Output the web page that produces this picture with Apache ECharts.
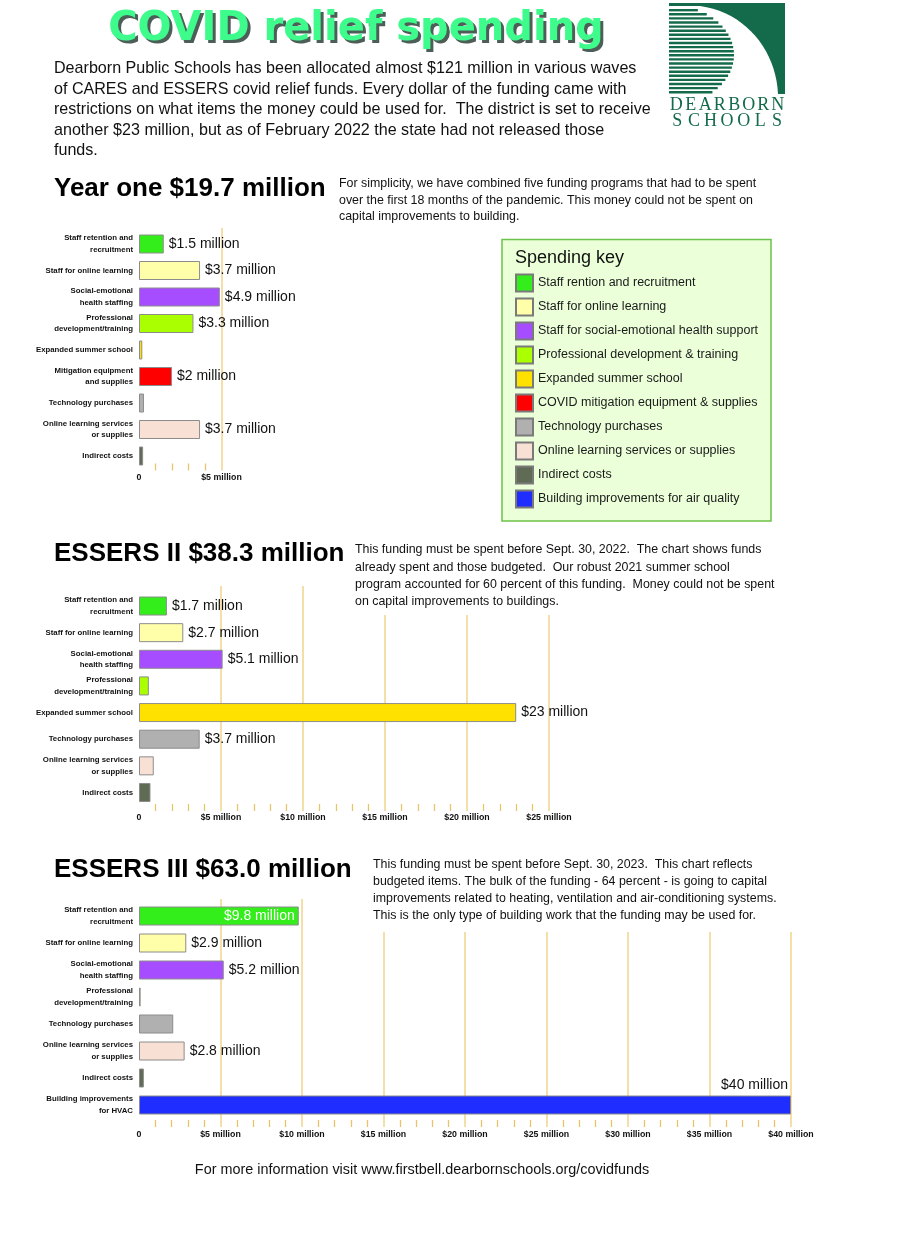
<!DOCTYPE html>
<html><head><meta charset="utf-8">
<script src="https://cdn.jsdelivr.net/npm/echarts@6/dist/echarts.min.js"></script>
<style>html,body{margin:0;padding:0;background:#fff}#c{width:898px;height:1236px}</style>
</head><body><div id="c"></div>
<script>
// ---------- DATA ----------
const keyNames = ['Staff rention and recruitment','Staff for online learning','Staff for social-emotional health support','Professional development & training','Expanded summer school','COVID mitigation equipment & supplies','Technology purchases','Online learning services or supplies','Indirect costs','Building improvements for air quality'];

const y1Categories = ['Staff retention and\nrecruitment','Staff for online learning','Social-emotional\nhealth staffing','Professional\ndevelopment/training','Expanded summer school','Mitigation equipment\nand supplies','Technology purchases','Online learning services\nor supplies','Indirect costs'];
const y1Values = [1.5, 3.7, 4.9, 3.3, 0.2, 2, 0.3, 3.7, 0.25];
const y1Keys = [0,1,2,3,4,5,6,7,8];
const y1Labeled = [0,1,2,3,5,7];

const y2Categories = ['Staff retention and\nrecruitment','Staff for online learning','Social-emotional\nhealth staffing','Professional\ndevelopment/training','Expanded summer school','Technology purchases','Online learning services\nor supplies','Indirect costs'];
const y2Values = [1.7, 2.7, 5.1, 0.6, 23, 3.7, 0.9, 0.7];
const y2Keys = [0,1,2,3,4,6,7,8];
const y2Labeled = [0,1,2,4,5];

const y3Categories = ['Staff retention and\nrecruitment','Staff for online learning','Social-emotional\nhealth staffing','Professional\ndevelopment/training','Technology purchases','Online learning services\nor supplies','Indirect costs','Building improvements\nfor HVAC'];
const y3Values = [9.8, 2.9, 5.2, 0.1, 2.1, 2.8, 0.3, 40];
const y3Keys = [0,1,2,3,6,7,8,9];
const y3Labeled = [0,1,2,5,7];
const y3LabelInside = [0];
const y3LabelAbove = [7];

const axisMaxes = [5, 25, 40];
const tickStep = 5;

const headings = ['Year one $19.7 million','ESSERS II $38.3 million','ESSERS III $63.0 million'];
const notes = [
 'For simplicity, we have combined five funding programs that had to be spent\nover the first 18 months of the pandemic. This money could not be spent on\ncapital improvements to building.',
 'This funding must be spent before Sept. 30, 2022.  The chart shows funds\nalready spent and those budgeted.  Our robust 2021 summer school\nprogram accounted for 60 percent of this funding.  Money could not be spent\non capital improvements to buildings.',
 'This funding must be spent before Sept. 30, 2023.  This chart reflects\nbudgeted items. The bulk of the funding - 64 percent - is going to capital\nimprovements related to heating, ventilation and air-conditioning systems.\nThis is the only type of building work that the funding may be used for.'
];
const intro = 'Dearborn Public Schools has been allocated almost $121 million in various waves\nof CARES and ESSERS covid relief funds. Every dollar of the funding came with\nrestrictions on what items the money could be used for.  The district is set to receive\nanother $23 million, but as of February 2022 the state had not released those\nfunds.';
const footer = 'For more information visit www.firstbell.dearbornschools.org/covidfunds';

// ---------- STYLE ----------
const keyColors = ['#33ee1a','#ffffaa','#a64dff','#aaff00','#ffe100','#ff0000','#b0b0b0','#f8e1d4','#5f6b55','#1f2eff'];
const sans = "'Liberation Sans',Arial,sans-serif";
const gridColor = '#f2d58c';

const layouts = [
  {barTop:230.75, barH:238.5, lineTop:228, lineH:242.5, width:82.5, margin:3},
  {barTop:592.7, barH:213.1, lineTop:586, lineH:225, width:410, margin:2},
  {barTop:902.5, barH:216, lineTop:899, lineH:228, width:652, margin:3}
];
const charts = [
  {cats:y1Categories, vals:y1Values, keys:y1Keys, labeled:y1Labeled, inside:[], above:[]},
  {cats:y2Categories, vals:y2Values, keys:y2Keys, labeled:y2Labeled, inside:[], above:[]},
  {cats:y3Categories, vals:y3Values, keys:y3Keys, labeled:y3Labeled, inside:y3LabelInside, above:y3LabelAbove}
];

const grid = [], xAxis = [], yAxis = [], series = [];
charts.forEach((c, i) => {
  const L = layouts[i];
  grid.push({left:139, top:L.barTop, width:L.width, height:L.barH});
  grid.push({left:139, top:L.lineTop, width:L.width, height:L.lineH});
  const bg = 2*i, lg = 2*i+1;
  xAxis.push({type:'value', gridIndex:bg, min:0, max:axisMaxes[i], show:false});
  yAxis.push({type:'category', gridIndex:bg, inverse:true, data:c.cats,
    axisLine:{show:false}, axisTick:{show:false},
    axisLabel:{interval:0, fontFamily:sans, fontWeight:'bold', fontSize:7.8, lineHeight:11.5, color:'#111', margin:6, align:'right'}});
  xAxis.push({type:'value', gridIndex:lg, min:0, max:axisMaxes[i], interval:tickStep,
    splitLine:{show:true, showMinLine:false, lineStyle:{color:gridColor, width:1.5}},
    axisLine:{show:false}, axisTick:{show:false, inside:true},
    minorTick:{show:true, splitNumber:5, length:7, lineStyle:{color:'#e8c46c', width:1.3}},
    axisLabel:{margin:L.margin, fontFamily:sans, fontWeight:'bold', fontSize:8.8, color:'#111',
      showMinLabel:true, showMaxLabel:true,
      formatter: v => v === 0 ? '0' : '$' + v + ' million'}});
  yAxis.push({type:'value', gridIndex:lg, min:0, max:1, show:false});
  series.push({
    type:'bar', xAxisIndex:bg, yAxisIndex:bg, barWidth:19, silent:true, animation:false,
    itemStyle:{borderColor:'#8c8c8c', borderWidth:1},
    label:{position:'right', distance:5, fontFamily:sans, fontSize:14, color:'#111',
      formatter: p => '$' + p.value + ' million'},
    data: c.vals.map((v, j) => {
      const d = {value:v, itemStyle:{color:keyColors[c.keys[j]]}, label:{show:c.labeled.includes(j)}};
      if (c.inside.includes(j)) Object.assign(d.label, {position:'insideRight', distance:4, color:'#fff'});
      if (c.above.includes(j)) Object.assign(d.label, {position:['100%', 0], align:'right', verticalAlign:'bottom', offset:[-3,-3]});
      return d;
    })
  });
});
keyNames.forEach((n, k) => {
  series.push({type:'scatter', name:n, xAxisIndex:1, yAxisIndex:1, data:[], silent:true,
    itemStyle:{color:keyColors[k], borderColor:'#7a7a7a', borderWidth:1, opacity:1}});
});

// ---------- GRAPHICS ----------
const graphic = [];
graphic.push({type:'text', z:5, style:{text:'COVID relief spending', x:359, y:13, align:'center', verticalAlign:'top', font:"bold 40px 'DejaVu Sans'", fill:'#4d5e58'}});
graphic.push({type:'text', z:6, style:{text:'COVID relief spending', x:356, y:10, align:'center', verticalAlign:'top', font:"bold 40px 'DejaVu Sans'", fill:'#3efc8c'}});
graphic.push({type:'text', z:5, style:{text:intro, x:54, y:58.5, verticalAlign:'top', font:"16.1px " + sans, lineHeight:20.5, fill:'#111'}});
// logo
const logoGreen = '#146b4b';
graphic.push({type:'rect', z:1, shape:{x:669, y:3, width:116, height:91}, style:{fill:logoGreen}});
const sw = [[669, 94], [669, 6]];
for (let t = 0; t <= 1.0001; t += 0.05) {
  const u = 1 - t;
  const bx = u*u*u*700 + 3*u*u*t*745 + 3*u*t*t*776 + t*t*t*778;
  const by = u*u*u*6 + 3*u*u*t*12 + 3*u*t*t*50 + t*t*t*94;
  sw.push([bx, by]);
}
graphic.push({type:'polygon', z:2, shape:{points:sw}, style:{fill:'#fff'}});
for (let y = 9; y <= 91; y += 4.1) {
  const dy = (y + 1.2 - 55) / 50;
  const hw = 65 * Math.sqrt(Math.max(0, 1 - dy*dy));
  graphic.push({type:'rect', z:3, shape:{x:669, y:y, width:hw, height:2.4}, style:{fill:logoGreen}});
}
'DEARBORN'.split('').forEach((ch, i) => graphic.push({type:'text', z:3, style:{text:ch, x:669 + (i+0.5)*14.5, y:105, align:'center', verticalAlign:'middle', font:"18px 'Liberation Serif',serif", fill:logoGreen}}));
'SCHOOLS'.split('').forEach((ch, i) => graphic.push({type:'text', z:3, style:{text:ch, x:669 + (i+0.5)*16.6, y:121, align:'center', verticalAlign:'middle', font:"18px 'Liberation Serif',serif", fill:logoGreen}}));
[189, 554, 870].forEach((y, i) => graphic.push({type:'text', z:5, style:{text:headings[i], x:54, y:y, verticalAlign:'middle', font:"bold 26px " + sans, fill:'#000'}}));
graphic.push({type:'rect', z:4, shape:{x:350, y:540, width:215, height:75}, style:{fill:'#fff'}});
graphic.push({type:'rect', z:4, shape:{x:366, y:853, width:440, height:79}, style:{fill:'#fff'}});
[[339, 184, 16.5], [355, 550, 17.3], [373, 865, 17]].forEach((p, i) => graphic.push({type:'text', z:5, style:{text:notes[i], x:p[0], y:p[1] - p[2]/2, verticalAlign:'top', font:"12.4px " + sans, lineHeight:p[2], fill:'#111'}}));
graphic.push({type:'rect', z:0, shape:{x:502, y:239.5, width:269, height:281.5}, style:{fill:'#ebffd9', stroke:'#6cc24a', lineWidth:1.5}});
graphic.push({type:'text', z:5, style:{text:'Spending key', x:515, y:258, verticalAlign:'middle', font:"18px " + sans, fill:'#111'}});
graphic.push({type:'text', z:5, style:{text:footer, x:422, y:1170, align:'center', verticalAlign:'middle', font:"14.4px " + sans, fill:'#111'}});

const chart = echarts.init(document.getElementById('c'), null, {renderer:'canvas'});
chart.setOption({
  animation:false,
  backgroundColor:'#fff',
  grid, xAxis, yAxis, series, graphic,
  legend:{orient:'vertical', left:515, top:273.5, padding:0, itemWidth:17, itemHeight:17, itemGap:5, icon:'rect',
    selectedMode:false, data:keyNames, textStyle:{fontFamily:sans, fontSize:12.5, color:'#1a1a1a'}}
});
</script>
</body></html>
